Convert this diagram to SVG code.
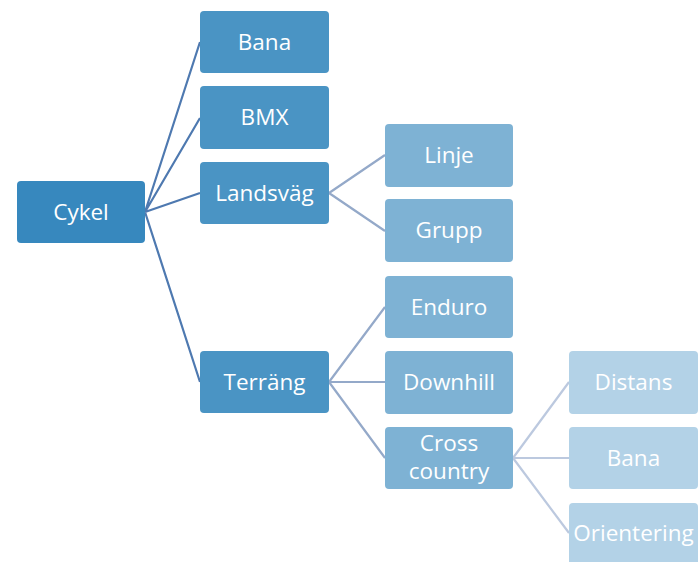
<svg xmlns="http://www.w3.org/2000/svg" width="700" height="562" viewBox="0 0 700 562">
<style>
text{font-family:"Open Sans","Liberation Sans",sans-serif;font-size:22.5px;fill:#fff;text-anchor:middle}
.l0{fill:#3788BE}
.l1{fill:#4A94C4}
.l2{fill:#7EB2D4}
.l3{fill:#B3D2E7}
.c1{stroke:#4E79B0;stroke-width:2.2;fill:none}
.c2{stroke:#94A9C9;stroke-width:2.2;fill:none}
.c3{stroke:#BCC9DF;stroke-width:2.2;fill:none}
</style>
<rect width="700" height="562" fill="#fff"/>
<g id="connectors">
<path class="c1" d="M145,212 L200,42 M145,212 L200,118 M145,212 L200,193 M145,212 L200,382"/>
<path class="c2" d="M329,193 L385,155 M329,193 L385,231 M329,382 L385,307 M329,382 L385,382 M329,382 L385,458"/>
<path class="c3" d="M513,458 L569,382 M513,458 L569,458 M513,458 L569,533"/>
</g>
<g id="cykel"><rect class="l0" x="17" y="181" width="128" height="62" rx="4"/><text x="81" y="220">Cykel</text></g>
<g id="bana1"><rect class="l1" x="200" y="11" width="129" height="62" rx="4"/><text x="264.5" y="50">Bana</text></g>
<g id="bmx"><rect class="l1" x="200" y="86" width="129" height="63" rx="4"/><text x="264.5" y="125">BMX</text></g>
<g id="landsvag"><rect class="l1" x="200" y="162" width="129" height="62" rx="4"/><text x="264.5" y="201">Landsväg</text></g>
<g id="terrang"><rect class="l1" x="200" y="351" width="129" height="62" rx="4"/><text x="264.5" y="390">Terräng</text></g>
<g id="linje"><rect class="l2" x="385" y="124" width="128" height="63" rx="4"/><text x="449" y="163">Linje</text></g>
<g id="grupp"><rect class="l2" x="385" y="199" width="128" height="63" rx="4"/><text x="449" y="238">Grupp</text></g>
<g id="enduro"><rect class="l2" x="385" y="276" width="128" height="62" rx="4"/><text x="449" y="315">Enduro</text></g>
<g id="downhill"><rect class="l2" x="385" y="351" width="128" height="63" rx="4"/><text x="449" y="390">Downhill</text></g>
<g id="crosscountry"><rect class="l2" x="385" y="427" width="128" height="62" rx="4"/><text x="449" y="451">Cross</text><text x="449" y="479">country</text></g>
<g id="distans"><rect class="l3" x="569" y="351" width="129" height="63" rx="4"/><text x="633.5" y="390">Distans</text></g>
<g id="bana2"><rect class="l3" x="569" y="427" width="129" height="62" rx="4"/><text x="633.5" y="466">Bana</text></g>
<g id="orientering"><rect class="l3" x="569" y="503" width="129" height="65" rx="4"/><text x="633.5" y="541">Orientering</text></g>
</svg>
